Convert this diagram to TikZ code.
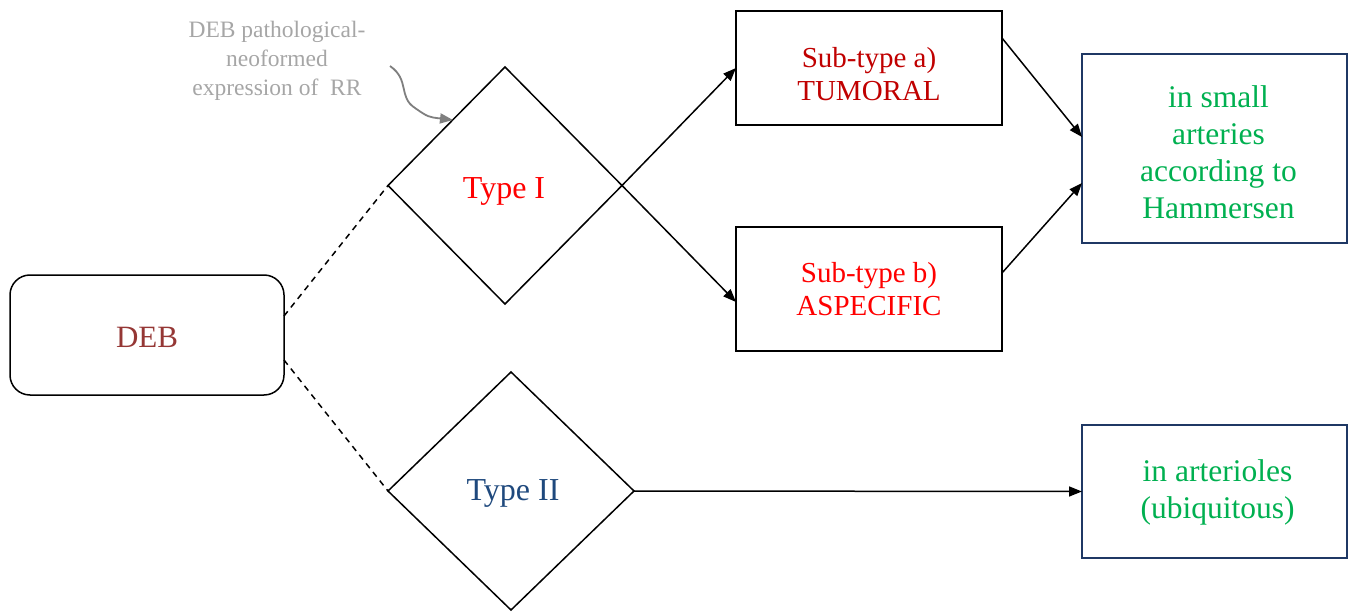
\documentclass[tikz,border=0pt]{standalone}
\usepackage{fontspec}
\setmainfont{Liberation Serif}
\usetikzlibrary{shapes.geometric,arrows.meta,calc}
\definecolor{debred}{HTML}{953735}
\definecolor{darkred}{HTML}{C00000}
\definecolor{brightred}{HTML}{FF0000}
\definecolor{typeblue}{HTML}{1F497D}
\definecolor{navy}{HTML}{1F3864}
\definecolor{resgreen}{HTML}{00B050}
\definecolor{annogray}{HTML}{A6A6A6}
\definecolor{arrowgray}{HTML}{7F7F7F}
\tikzset{
  every node/.style={inner sep=0pt, outer sep=0pt},
  debbox/.style={draw, line width=1.5pt, rounded corners=20pt, minimum width=274pt, minimum height=120pt},
  typediamond/.style={draw, line width=1.5pt, diamond},
  subbox/.style={draw, line width=1.5pt, minimum width=266pt},
  resbox/.style={draw=navy, line width=1.5pt, minimum width=265pt},
  debtext/.style={text=debred, font=\fontsize{31}{36}\selectfont},
  typetext/.style={font=\fontsize{32}{37}\selectfont},
  subtext/.style={align=center, font=\fontsize{29}{33}\selectfont},
  restext/.style={align=center, text=resgreen, font=\fontsize{31.5}{37}\selectfont},
  arr/.style={line width=1.5pt, -{Triangle[length=13pt,width=10pt]}},
  dashlink/.style={line width=1.5pt, dash pattern=on 6pt off 5pt},
}
\begin{document}
\begin{tikzpicture}[x=1pt,y=-1pt]
\useasboundingbox (0,0) rectangle (1348,612);
% shapes
\node[debbox] (deb) at (147,335) {};
\node[typediamond, minimum width=234pt, minimum height=237pt] (t1) at (505,185.5) {};
\node[typediamond, minimum width=246pt, minimum height=238pt] (t2) at (511,491) {};
\node[subbox, minimum height=114pt] (sa) at (869,68) {};
\node[subbox, minimum height=124pt] (sb) at (869,289) {};
\node[resbox, minimum height=189pt] (r1) at (1214.5,148.5) {};
\node[resbox, minimum height=133pt] (r2) at (1214.5,491.5) {};
% texts
\node[debtext] (debt) at ($(deb)+(0,2)$) {DEB};
\node[typetext, text=brightred] (t1t) at ($(t1)+(-1,6)$) {Type I};
\node[typetext, text=typeblue] (t2t) at ($(t2)+(2,2)$) {Type II};
\node[subtext, text=darkred] (sat) at ($(sa)+(0,6)$) {Sub-type a)\\TUMORAL};
\node[subtext, text=brightred] (sbt) at (sb) {Sub-type b)\\ASPECIFIC};
\node[restext] (r1t) at ($(r1)+(4,4)$) {in small\\arteries\\according to\\Hammersen};
\node[restext] (r2t) at ($(r2)+(3,1)$) {in arterioles\\(ubiquitous)};
\node[align=center, text=annogray, font=\fontsize{23.5}{29}\selectfont] (anno) at (277,61) {DEB pathological-\\neoformed\\expression of\ \ RR};
% dashed links
\draw[dashlink] ($(deb.east)+(0,-19)$) -- (t1.west);
\draw[dashlink] ($(deb.east)+(0,25)$) -- (t2.west);
% arrows
\draw[arr] (t1.east) -- (sa.west);
\draw[arr] (t1.east) -- ($(sb.west)+(0,13)$);
\draw[arr] ($(sa.east)+(0,-30)$) -- ($(r1.west)+(0,-11.5)$);
\draw[arr] ($(sb.east)+(0,-16)$) -- ($(r1.west)+(0,34.5)$);
\draw[arr] (t2.east) -- (r2.west);
% annotation arrow
\coordinate (as) at (390,66);
\coordinate (ae) at (453,120);
\draw[arrowgray, line width=1.8pt, -{Triangle[length=13pt,width=10pt]}] (as) .. controls (410,80) and (398,97) .. (415,108) .. controls (428,117) .. (ae);
\end{tikzpicture}
\end{document}
